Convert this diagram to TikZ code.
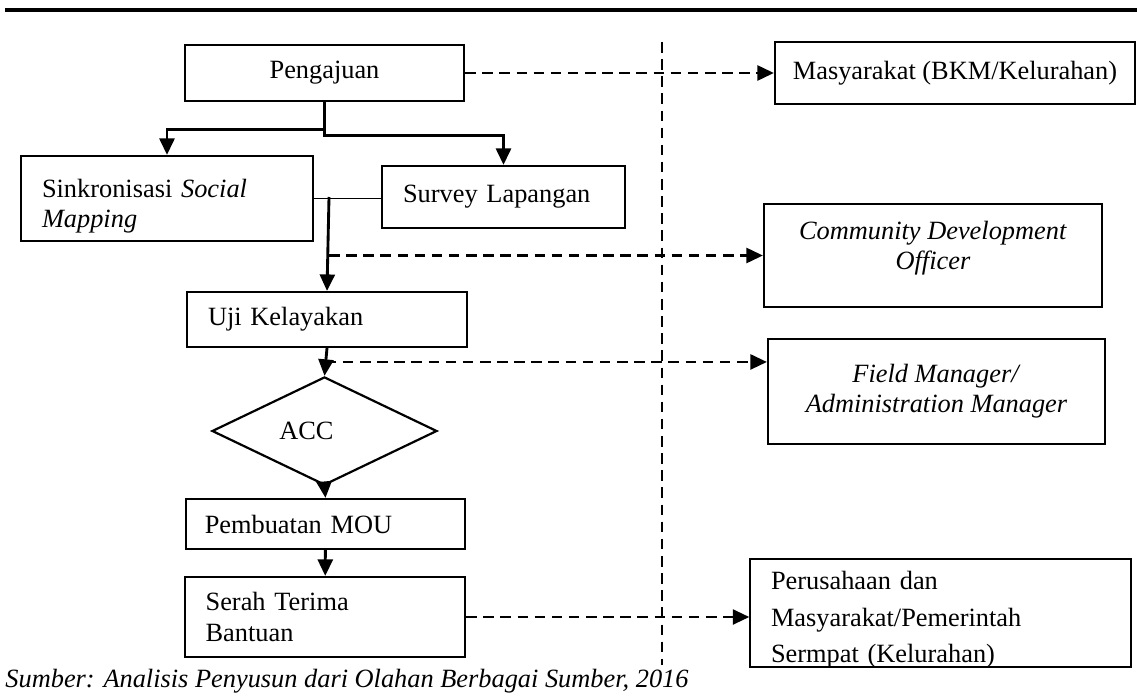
\documentclass[tikz,border=0pt]{standalone}
\usepackage{fontspec}
\setmainfont{Liberation Serif}
\usepackage{tikz}
\usetikzlibrary{arrows.meta,positioning,calc,shapes.geometric}

\begin{document}
\begin{tikzpicture}[
  font=\fontsize{12}{13.7}\selectfont,
  >={Triangle[length=7.5pt,width=6.8pt]},
  base/.style   = {draw, line width=1pt, inner ysep=2pt},
  cbox/.style   = {base, align=center},
  lbox/.style   = {base, align=left, inner xsep=0.33cm},
  accnd/.style  = {base, diamond, inner sep=0pt},
  arr/.style    = {->, line width=1.3pt},
  dasharr/.style= {->, line width=1.2pt, dash pattern=on 4.8pt off 3pt},
  divline/.style= {line width=1.2pt, dash pattern=on 4.8pt off 3pt}
]
\fill[white] (0,0) rectangle (18.192,-11.2);
\useasboundingbox (0,0) rectangle (18.192,-11.2);

%% top rule
\draw[line width=1.5pt] (0.08,-0.16) -- (18.192,-0.16);

%% ===== left column =====
\node[cbox, minimum width=4.464cm, minimum height=0.896cm] (peng) at (5.192,-1.168) {Pengajuan};
\node[lbox, text width=4.0cm, minimum height=1.36cm] (sink) at (2.672,-3.176)
  {\rule{0pt}{15pt}Sinkronisasi \textit{Social}\\ \textit{Mapping}};
\node[lbox, text width=3.216cm, minimum height=0.992cm] (survey) at (8.056,-3.152) {Survey Lapangan};
\node[lbox, text width=3.808cm, minimum height=0.88cm] (uji) at (5.232,-5.112) {Uji Kelayakan};
\node[accnd, minimum width=3.6cm, minimum height=1.408cm] (acc) at (5.192,-6.896) {ACC\hspace*{0.58cm}};
\node[lbox, inner xsep=0.3cm, text width=3.864cm, minimum height=0.8cm] (mou) at (5.208,-8.384) {Pembuatan MOU};
\node[lbox, text width=3.82cm, minimum height=1.28cm] (serah) at (5.2,-9.872) {Serah Terima\\ Bantuan};

%% ===== right column =====
\node[cbox, minimum width=5.76cm, minimum height=0.992cm] (masy) at (15.28,-1.168) {Masyarakat (BKM/Kelurahan)};
\node[cbox, minimum width=5.408cm, minimum height=1.648cm, text depth=9pt] (cdo) at (14.928,-4.088)
  {\textit{Community Development}\\ \textit{Officer}};
\node[cbox, minimum width=5.392cm, minimum height=1.68cm] (fm) at (14.984,-6.264)
  {\textit{Field Manager/}\\ \textit{Administration Manager}};
\node[lbox, text width=5.424cm, minimum height=1.728cm, text height=11pt, text depth=32pt,
      font=\fontsize{12}{16.6}\selectfont] (per) at (15.048,-9.808)
  {Perusahaan dan\\ Masyarakat/Pemerintah\\ Sermpat (Kelurahan)};

%% divider
\coordinate (divtop) at (10.592,-0.672);
\coordinate (divbot) at (10.592,-10.64);
\draw[divline] (divtop) -- (divbot);

%% flow
\draw[arr] (peng.south) -- ++(0,-0.432) -| (sink.north);
\draw[arr] (peng.south) -- ++(0,-0.528) -| (survey.north);
\draw[line width=0.5pt] (sink.east) -- (sink.east -| survey.west);
\coordinate (join) at (5.264,-3.152);
\draw[arr] (join) -- (uji.north);
\draw[arr] (uji.south) -- (acc.north);
\draw[arr] (acc.south) -- (mou.north);
\draw[arr] (mou) -- (serah);

%% to the right
\draw[dasharr] (peng.east) -- (masy.west);
\draw[dasharr] (join |- cdo.west) -- (cdo.west);
\coordinate (ujiacc) at ($(uji.south)!0.5!(acc.north)$);
\draw[dasharr] (ujiacc) -- (ujiacc -| fm.west);
\draw[dasharr] (serah.east) -- (serah.east -| per.west);

\node[anchor=west, font=\fontsize{12}{13.7}\selectfont\itshape, inner sep=0pt] (src) at (0.08,-10.896)
  {Sumber: Analisis Penyusun dari Olahan Berbagai Sumber, 2016};

\end{tikzpicture}
\end{document}
